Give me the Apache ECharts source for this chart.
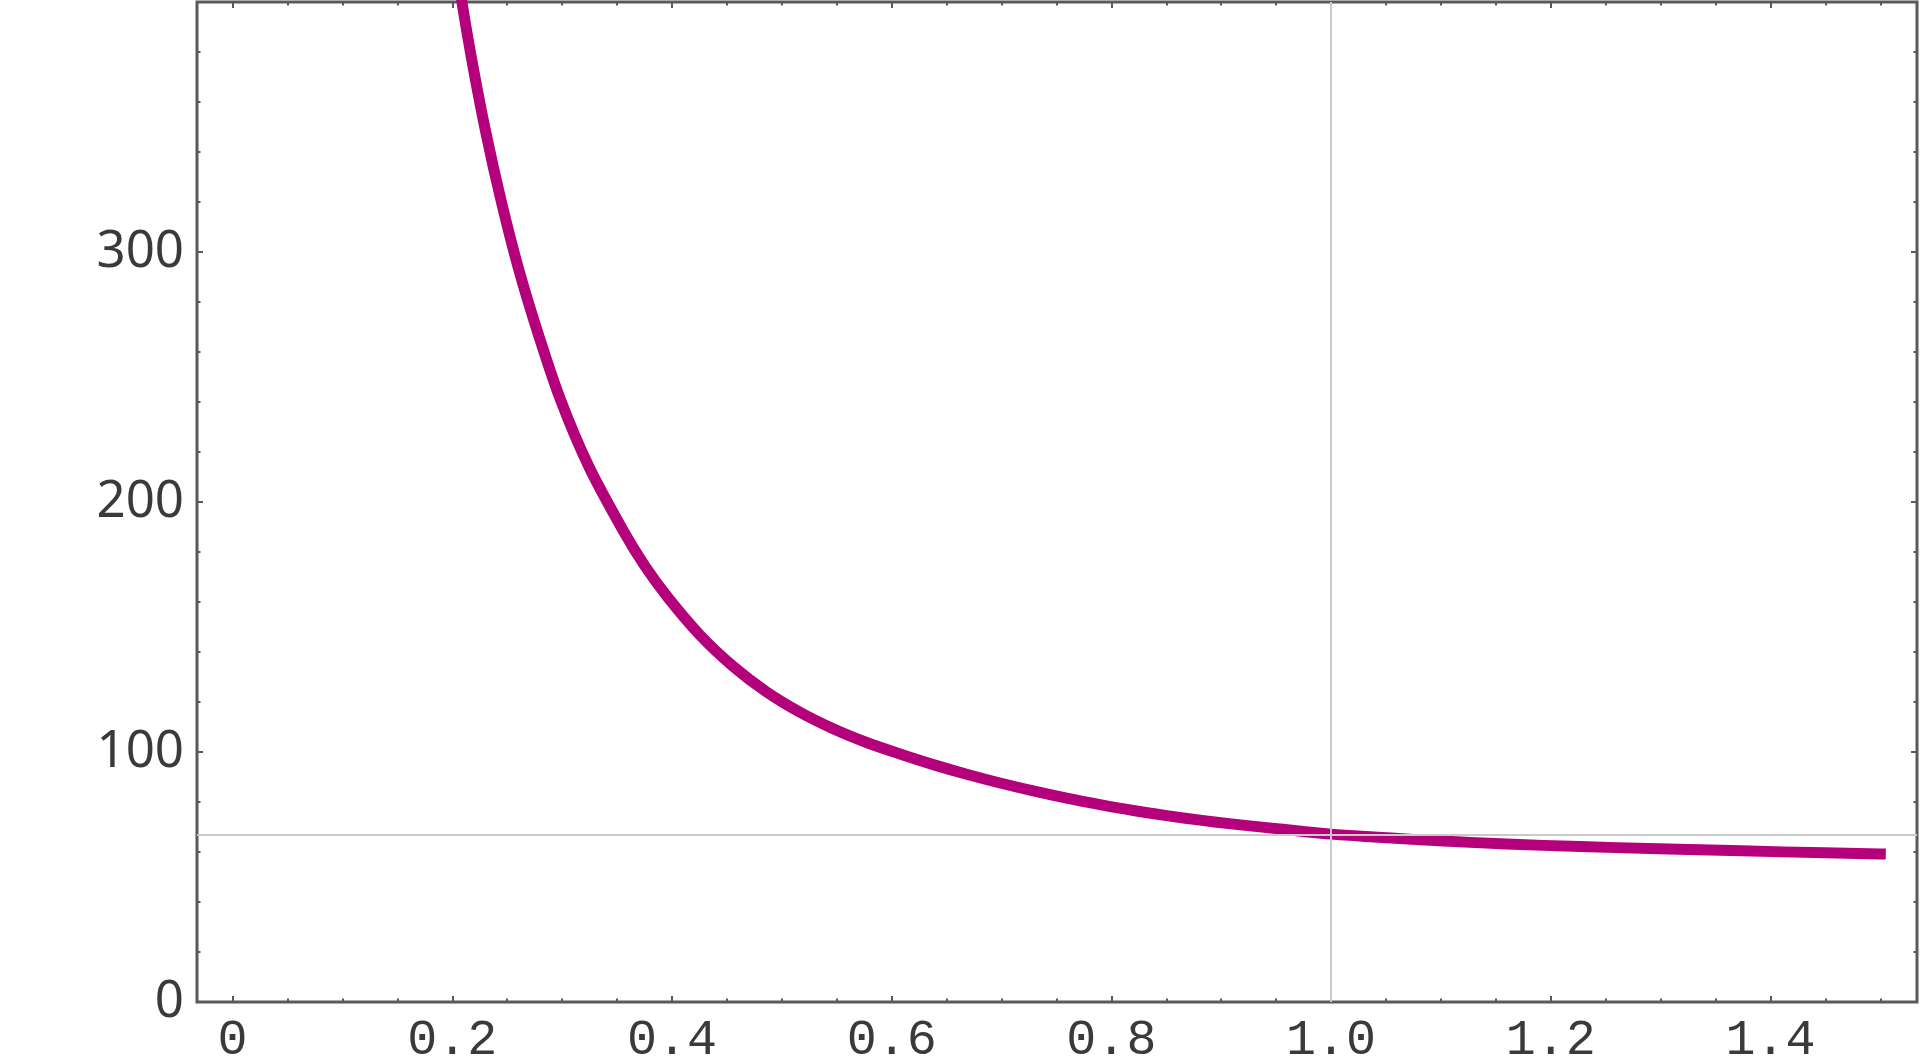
<!DOCTYPE html>
<html>
<head>
<meta charset="utf-8">
<script src="https://cdn.jsdelivr.net/npm/echarts@6/dist/echarts.min.js"></script>
<style>
  html, body { margin: 0; padding: 0; background: #ffffff; }
  #chart { width: 1920px; height: 1060px; }
</style>
</head>
<body>
<div id="chart"></div>
<script>
// ---- data ----
const curveX = [0.200, 0.2088, 0.2189, 0.2307, 0.2443, 0.2598, 0.2780, 0.2986, 0.3244, 0.3563,
                0.3755, 0.3963, 0.4254, 0.4558, 0.4862, 0.5165, 0.5468, 0.5772, 0.6076, 0.6379,
                0.6683, 0.6986, 0.7289, 0.7593, 0.7897, 0.8200, 0.8504, 0.8807, 0.9111, 0.9414,
                0.9707, 1.0000, 1.0390, 1.0779, 1.1265, 1.1933, 1.2600, 1.3358, 1.4116, 1.5000];
const curveY = [427, 400, 374.1, 347.5, 320.8, 294.1, 267.5, 240.8, 214.1, 188.0,
                174.3, 161.8, 146.8, 134.2, 124.0, 115.9, 109.3, 103.8, 99.2, 94.95,
                91.1, 87.6, 84.45, 81.55, 78.95, 76.6, 74.55, 72.75, 71.15, 69.75,
                68.4, 67.15, 66.0, 64.95, 63.85, 62.65, 61.75, 60.9, 60.05, 59.2];
const refX = [1.0];       // vertical grey guide
const refY = [66.8];      // horizontal grey guide
const xTickLabels = ['0', '0.2', '0.4', '0.6', '0.8', '1.0', '1.2', '1.4'];
const xMinorTicks = [0.05, 0.1, 0.15, 0.25, 0.3, 0.35, 0.45, 0.5, 0.55, 0.65, 0.7, 0.75,
                     0.85, 0.9, 0.95, 1.05, 1.1, 1.15, 1.25, 1.3, 1.35, 1.45, 1.5];
const yTickLabels = ['0', '100', '200', '300'];

const X_FRAME_MIN = -0.0324, X_FRAME_MAX = 1.5334;
const Y_MIN = 0, Y_MAX = 400;

const frameColor = '#595959';
const labelColor = '#3a3a3a';
const curveColor = '#b4007a';
const guideColor = '#cacaca';

const curveData = curveX.map((x, i) => [x, curveY[i]]);
const xMajorTicks = xTickLabels.map(Number);

function xAxisDef(position, values, len, withLabels) {
  return {
    gridIndex: 0, type: 'value', position: position, min: X_FRAME_MIN, max: X_FRAME_MAX,
    axisLine: { show: false, onZero: false },
    splitLine: { show: false },
    axisTick: { show: true, inside: true, length: len, customValues: values,
                lineStyle: { color: frameColor, width: 2 } },
    axisLabel: withLabels ? {
      show: true, margin: 14, customValues: xMajorTicks,
      color: labelColor, fontFamily: 'Liberation Mono', fontSize: 50,
      formatter: (v) => { const i = xMajorTicks.findIndex(t => Math.abs(t - v) < 1e-6); return i >= 0 ? xTickLabels[i] : ''; }
    } : { show: false }
  };
}

function yAxisDef(position, withLabels) {
  return {
    gridIndex: 0, type: 'value', position: position, min: Y_MIN, max: Y_MAX, interval: 100,
    axisLine: { show: false, onZero: false },
    splitLine: { show: false },
    axisTick: { show: true, inside: true, length: 6, lineStyle: { color: frameColor, width: 2 } },
    minorTick: { show: true, splitNumber: 5, length: 3.5, lineStyle: { color: frameColor, width: 2 } },
    axisLabel: withLabels ? {
      show: true, margin: 13, showMaxLabel: false,
      color: labelColor, fontFamily: 'Noto Sans', fontSize: 51,
      formatter: (v) => { const i = Math.round(v / 100); return yTickLabels[i] !== undefined ? yTickLabels[i] : ''; }
    } : { show: false }
  };
}

const chart = echarts.init(document.getElementById('chart'), null, { renderer: 'canvas' });
chart.setOption({
  animation: false,
  backgroundColor: '#ffffff',
  grid: [
    { left: 197, top: 2, width: 1720, height: 1000, show: true, outerBoundsMode: 'none',
      containLabel: false,
      borderColor: frameColor, borderWidth: 3, backgroundColor: 'transparent' }
  ],
  xAxis: [
    xAxisDef('bottom', xMajorTicks, 6, true),
    xAxisDef('bottom', xMinorTicks, 3.5, false),
    xAxisDef('top', xMajorTicks, 6, false),
    xAxisDef('top', xMinorTicks, 3.5, false)
  ],
  yAxis: [
    yAxisDef('left', true),
    yAxisDef('right', false)
  ],
  series: [
    {
      type: 'line', xAxisIndex: 0, yAxisIndex: 0, data: [], z: 1, silent: true,
      markLine: {
        silent: true, symbol: 'none', animation: false,
        label: { show: false },
        lineStyle: { color: guideColor, width: 2, type: 'solid' },
        data: refX.map(v => ({ xAxis: v })).concat(refY.map(v => ({ yAxis: v })))
      }
    },
    {
      type: 'line', xAxisIndex: 0, yAxisIndex: 0, data: curveData, z: 3,
      showSymbol: false, symbol: 'none', smooth: 0.3, clip: true,
      lineStyle: { color: curveColor, width: 11, cap: 'square', join: 'round' }
    }
  ]
});
</script>
</body>
</html>
